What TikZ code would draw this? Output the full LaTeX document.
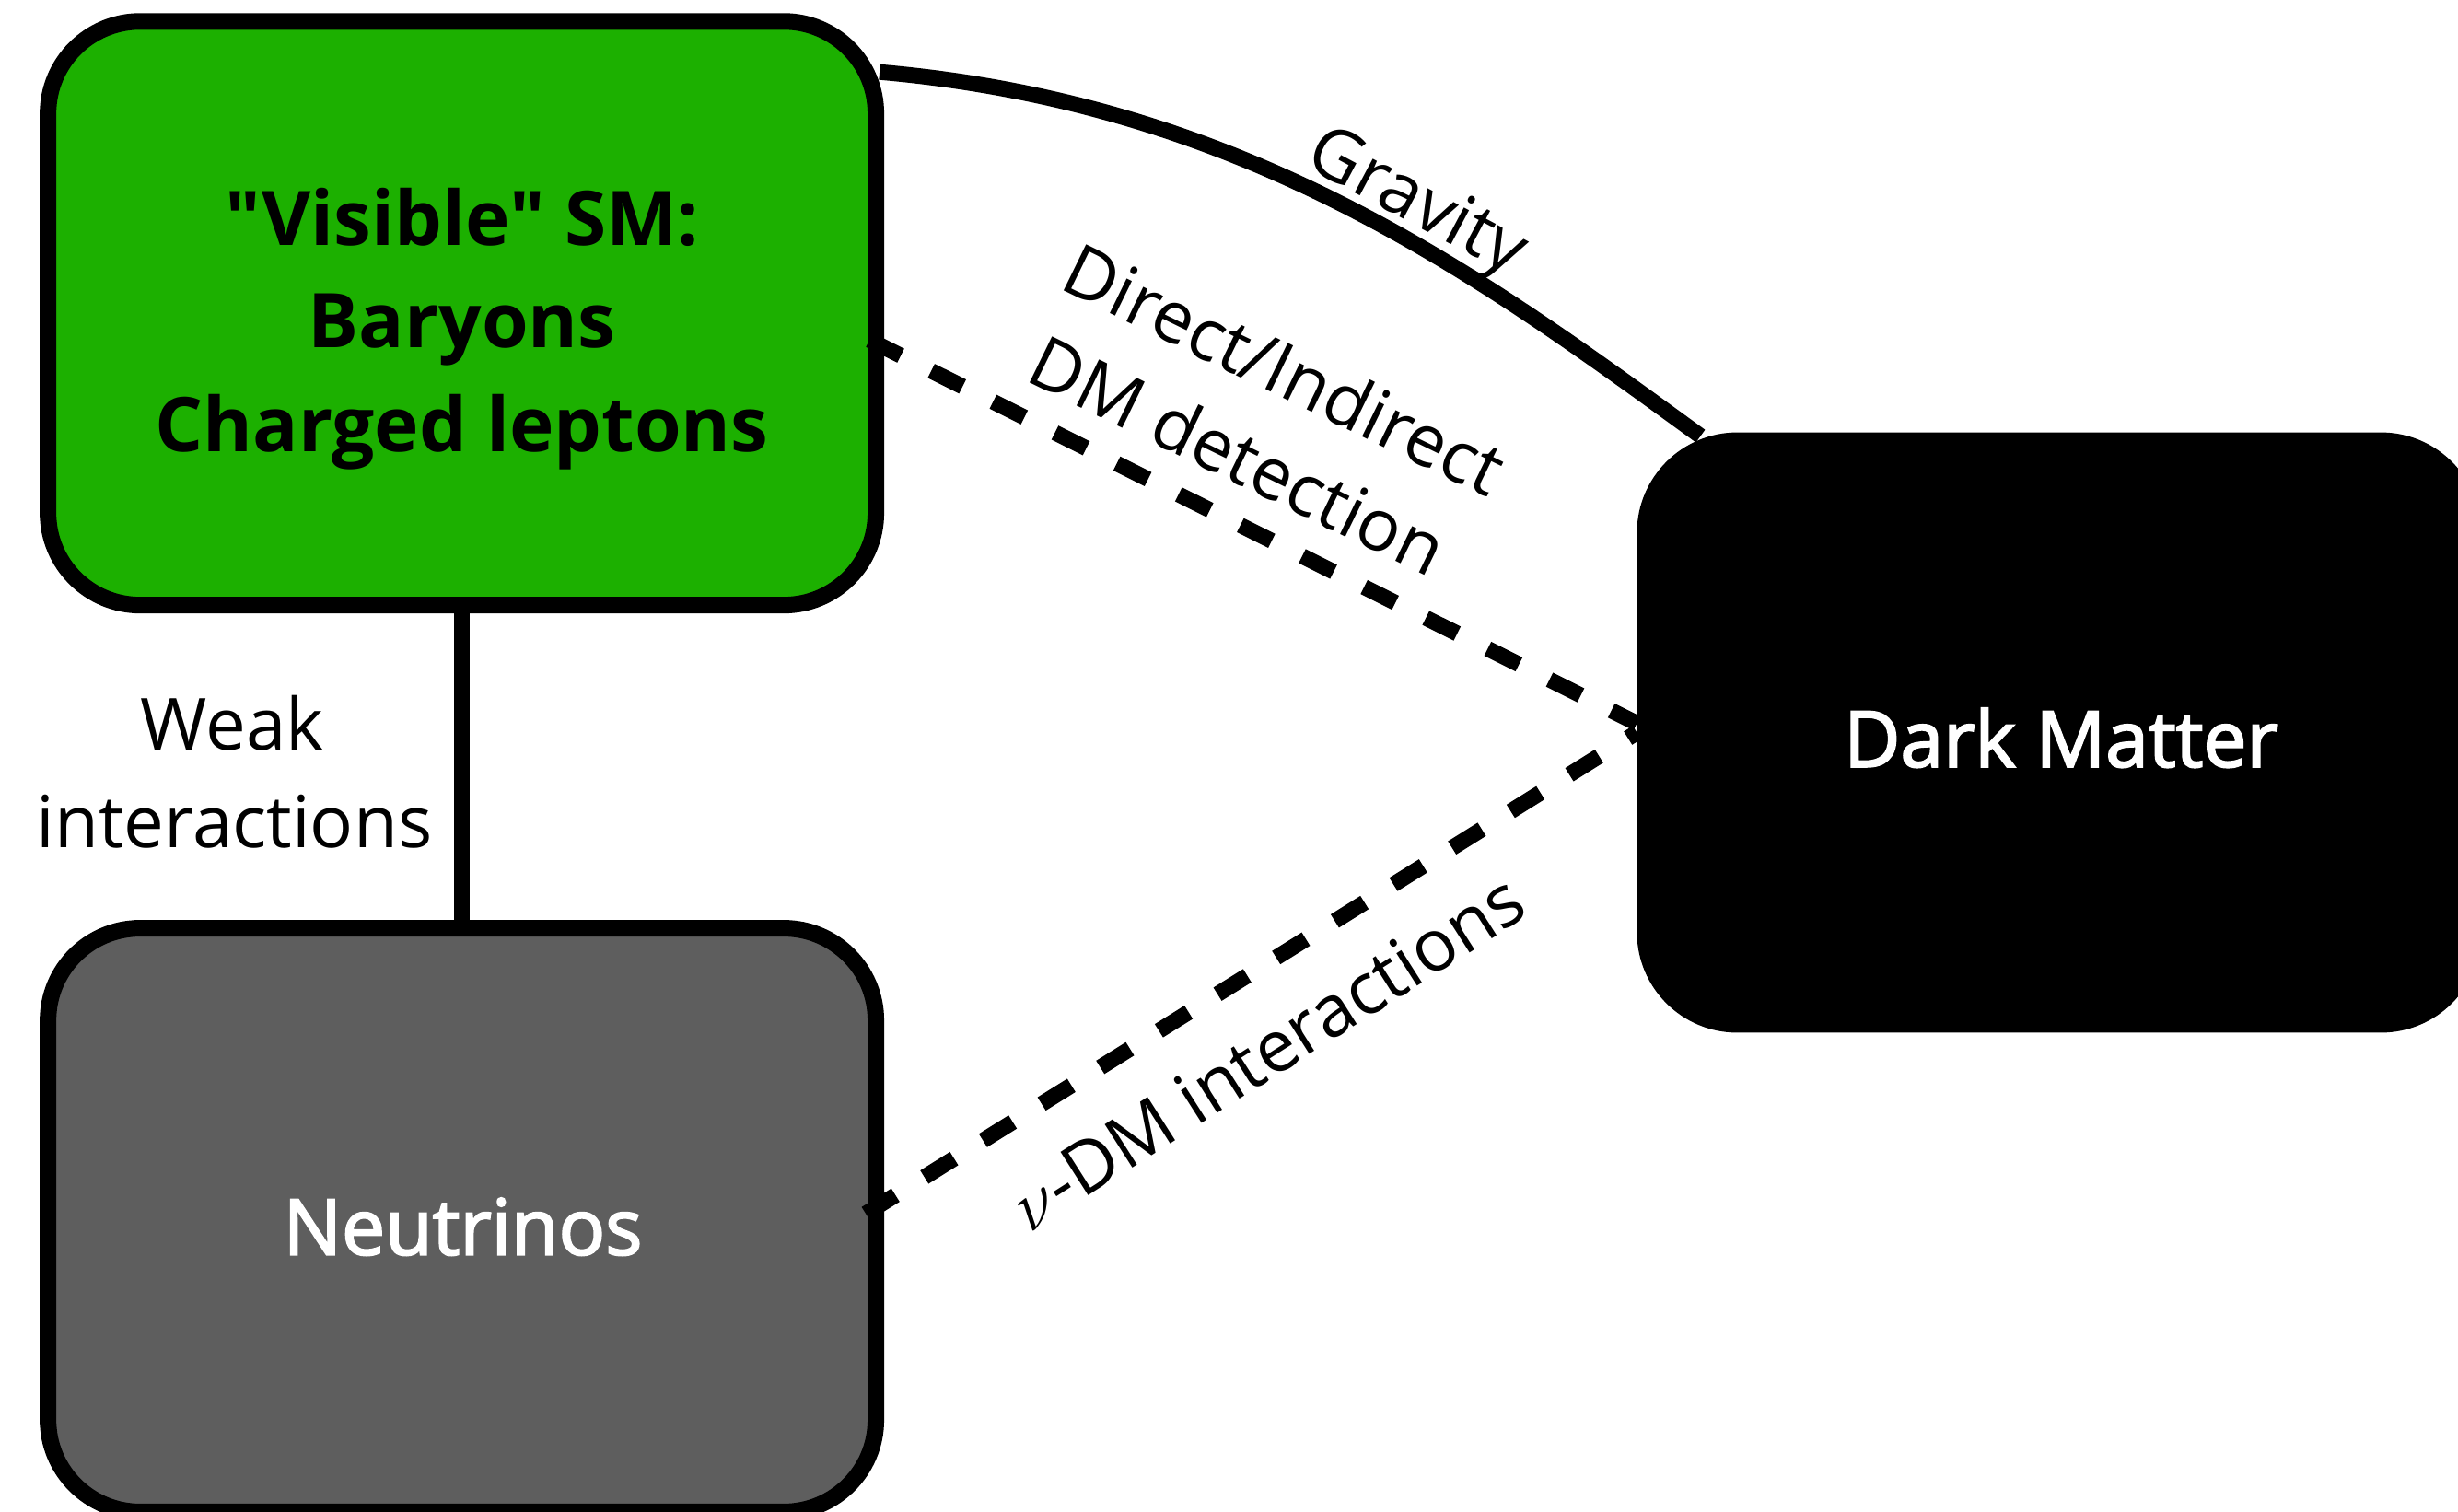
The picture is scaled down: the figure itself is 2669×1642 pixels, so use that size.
\RequirePackage{fix-cm}
\documentclass[tikz,border=0pt]{standalone}
\usepackage{fontspec}
\setmainfont{Open Sans}
\newfontfamily\heavyfont{Open Sans}[FakeBold=2.5]
\newfontfamily\plainsans{Open Sans}
\usetikzlibrary{calc}

\definecolor{visgreen}{RGB}{28,176,0}
\definecolor{nugray}{RGB}{94,94,94}

\begin{document}
\begin{tikzpicture}[x=0.01cm, y=-0.01cm,
  box/.style={draw=black, line width=0.18cm, rounded corners=1cm,
    minimum width=8.984cm, minimum height=6.335cm, inner sep=0pt},
  boxlabel/.style={font=\heavyfont\fontsize{23.9}{31.9}\selectfont,
    anchor=base, inner sep=0pt},
  vislabel/.style={boxlabel, font=\plainsans\bfseries\fontsize{23.3}{31.9}\selectfont},
  linklabel/.style={font=\fontsize{22.2}{30}\selectfont,
    anchor=base, inner sep=0pt},
  link/.style={line width=0.17cm},
  dmlink/.style={link, dash pattern=on 0.38cm off 0.37cm},
]
\useasboundingbox (0,0) rectangle (2669,1642);
\clip (0,0) rectangle (2669,1642);

% the three sectors
\node[box, fill=visgreen] (vis) at (501.6,340.2) {};
\node[box, fill=nugray]   (neu) at (501.6,1325) {};
\node[box, fill=black]    (dm)  at (2235.9,795.5) {};

\node[vislabel] (visA) at (501.6,266) {"Visible" SM:};
\node[vislabel] (visB) at (501.6,377) {Baryons};
\node[vislabel] (visC) at (501.6,490) {Charged leptons};
\node[boxlabel, text=white] (neutext) at (502.5,1362.6) {Neutrinos};
\node[boxlabel, text=white] (dmtext)  at (2238,832.7) {Dark Matter};

% interactions between the sectors
\draw[link] (vis.south) -- (neu.north);
\draw[link] ($(vis.east)+(-5,-262)$) .. controls (1353,113) and (1604,297)
  .. ($(dm.north west)+(69,4)$);
\draw[dmlink] ($(vis.east)+(-16,29)$) -- ($(dm.west)+(0,-10)$);
\draw[dmlink] ($(neu.east)+(-20,-7)$) -- (dm.west);

\node[linklabel] (weakA) at (252,814.5) {Weak};
\node[linklabel] (weakB) at (254.5,920.7) {interactions};
\node[linklabel, rotate=-28] (grav) at (1528,240) {Gravity};
\node[linklabel, rotate=-26] (ddA) at (1382,427) {Direct/Indirect};
\node[linklabel, rotate=-26] (ddB) at (1332,520) {DM detection};
\node[linklabel, rotate=32.5] (nudm) at (1390,1166) {$\nu$-DM interactions};
\end{tikzpicture}
\end{document}
